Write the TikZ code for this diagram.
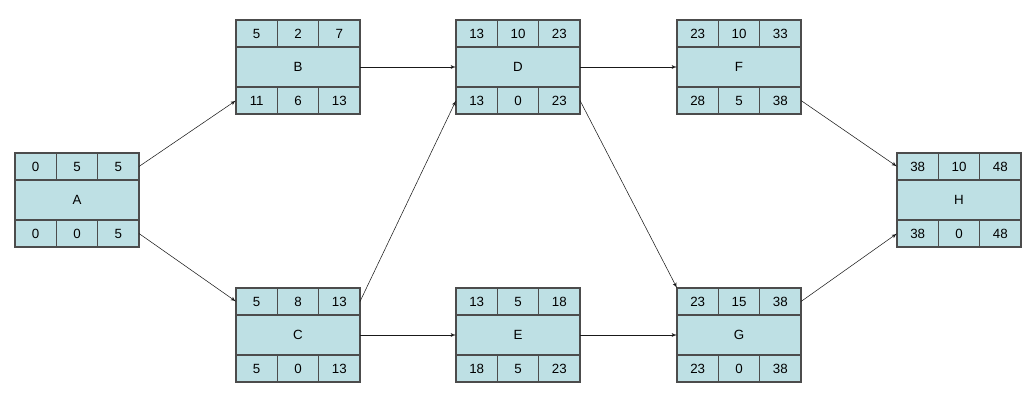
\documentclass[tikz,border=0pt]{standalone}
\usepackage{fontspec}
\setmainfont{Liberation Sans}
\usetikzlibrary{positioning, arrows}
\definecolor{boxfill}{RGB}{190,224,228}
\tikzstyle{cell} = [draw=black!70, fill=boxfill, line width=0.8pt, inner sep=0pt, outer sep=0pt, minimum width=31pt, minimum height=20.25pt, font=\normalsize]
\tikzstyle{mid} = [cell, minimum width=93pt, minimum height=30pt]
\tikzstyle{line} = [draw, thin, color=black!90, -latex']
\newcommand{\pbox}[7]{
node (#1) [mid] {#1}
node (#1-2) [cell, above=0pt of #1] {#3}
node (#1-1) [cell, left=0pt of #1-2] {#2}
node (#1-3) [cell, right=0pt of #1-2] {#4}
node (#1-5) [cell, below=0pt of #1] {#6}
node (#1-4) [cell, left=0pt of #1-5] {#5}
node (#1-6) [cell, right=0pt of #1-5] {#7}}
\newcommand{\arrow}[2]{
  \path [line] (#1) -- (#2);}

\begin{document}
\begin{tikzpicture}[x=0.75pt, y=-0.75pt]
		\useasboundingbox (0,0) rectangle (1030,403);
		
		% Draw diagram elements
		\path (77,200) \pbox{A}{0}{5}{5}{0}{0}{5};
		\path (298,67) \pbox{B}{5}{2}{7}{11}{6}{13};
		\path (298,335) \pbox{C}{5}{8}{13}{5}{0}{13};
		\path (518,67) \pbox{D}{13}{10}{23}{13}{0}{23};
		\path (518,335) \pbox{E}{13}{5}{18}{18}{5}{23};
		\path (739,67) \pbox{F}{23}{10}{33}{28}{5}{38};
		\path (739,335) \pbox{G}{23}{15}{38}{23}{0}{38};
		\path (959,200) \pbox{H}{38}{10}{48}{38}{0}{48};
		
		% Draw arrows between elements
		\arrow{A-3.east}{B-4.west};
		\arrow{A-6.east}{C-1.west};
		\arrow{B.east}{D.west};
		\arrow{C-3.east}{D-4.west};
		\arrow{C.east}{E.west};
		\arrow{D.east}{F.west};
		\arrow{D-6.east}{G-1.north west};
		\arrow{E.east}{G.west};
		\arrow{F-6.east}{H-1.west};
		\arrow{G-3.east}{H-4.west};
		
	\end{tikzpicture}
\end{document}
